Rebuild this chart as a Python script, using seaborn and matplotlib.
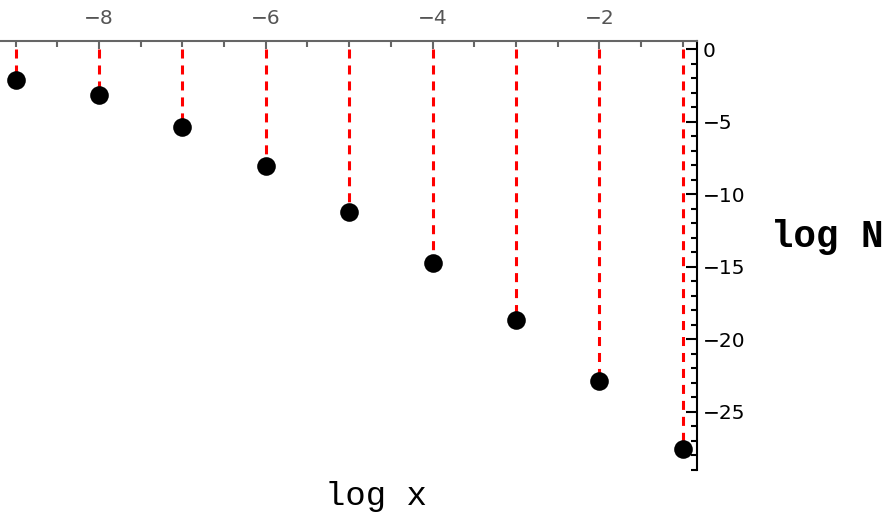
import matplotlib
matplotlib.use("Agg")
import matplotlib.pyplot as plt
import seaborn as sns
import pandas as pd
import numpy as np
from matplotlib.ticker import MultipleLocator, FixedLocator

# data
log_x = [-9, -8, -7, -6, -5, -4, -3, -2, -1]
log_N = [-2.16, -3.19, -5.36, -8.05, -11.22, -14.78, -18.69, -22.87, -27.59]
x_ticks = [-8, -6, -4, -2]
y_ticks = [0, -5, -10, -15, -20, -25]

df = pd.DataFrame({"log x": log_x, "log N": log_N})

sns.set_style("white")
plt.rcParams["lines.scale_dashes"] = False
plt.rcParams["font.family"] = ["DejaVu Sans"]

W, H = 884, 521
fig = plt.figure(figsize=(W / 100, H / 100), dpi=100)
left_px, right_px, top_px, bot_px = 0, 697, 41, 470
ax = fig.add_axes([left_px / W, 1 - bot_px / H, (right_px - left_px) / W, (bot_px - top_px) / H])

# stems
ax.vlines(df["log x"], 0, df["log N"], colors="#ff0000", linewidth=2.2,
          linestyles=[(0, (6.5, 5.0))], zorder=2)
sns.scatterplot(data=df, x="log x", y="log N", ax=ax, s=180, color="black",
                edgecolor="black", linewidth=0, zorder=3, legend=False)

ax.set_xlim(-9.187, -0.829)
ax.set_ylim(-29.03, 0.552)

for s in ["left", "bottom"]:
    ax.spines[s].set_visible(False)
ax.spines["top"].set_color("#666666")
ax.spines["top"].set_linewidth(1.5)
ax.spines["right"].set_color("black")
ax.spines["right"].set_linewidth(1.5)

ax.xaxis.set_ticks_position("top")
ax.xaxis.set_major_locator(FixedLocator(x_ticks))
ax.set_xticklabels([f"\u2212{abs(v)}" for v in x_ticks])
ax.xaxis.set_minor_locator(MultipleLocator(0.5))
ax.tick_params(axis="x", which="major", direction="in", length=6, width=1.5,
               color="#666666", labelcolor="#555555", labelsize=14.5, pad=9)
ax.tick_params(axis="x", which="minor", direction="in", length=4.5, width=1.5,
               color="#666666")

ax.yaxis.set_ticks_position("right")
ax.yaxis.set_major_locator(FixedLocator(y_ticks))
ax.set_yticklabels(["0" if v == 0 else f"\u2212{abs(v)}" for v in y_ticks])
ax.yaxis.set_minor_locator(MultipleLocator(1))
ax.tick_params(axis="y", which="major", direction="in", length=8, width=1.5,
               color="black", labelcolor="black", labelsize=14.5, pad=4)
ax.tick_params(axis="y", which="minor", direction="in", length=4.5, width=1.5,
               color="black")

ax.set_xlabel("")
ax.set_ylabel("")
ax.grid(False)

fig.text(376 / W, 1 - 497 / H, "log x", family="Liberation Mono", fontsize=24.5,
         ha="center", va="center", color="black")
fig.text(827 / W, 1 - 237 / H, "log N", family="Liberation Mono", fontsize=27,
         fontweight="bold", ha="center", va="center", color="black")

fig.savefig("out.png", dpi=100)
